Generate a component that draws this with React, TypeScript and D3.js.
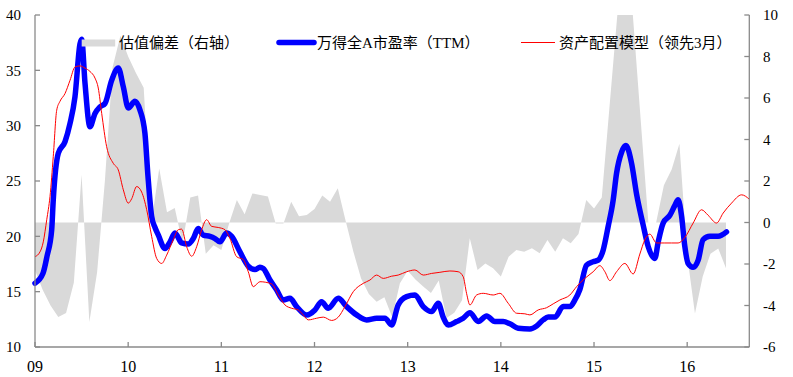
import React from "react";
import * as d3 from "d3";

const W = 793;
const H = 377;

// Tick labels
const yearTicks = [2009, 2010, 2011, 2012, 2013, 2014, 2015, 2016];
const xTickLabels = ["09", "10", "11", "12", "13", "14", "15", "16"];
const leftTicks = [10, 15, 20, 25, 30, 35, 40];
const rightTicks = [-6, -4, -2, 0, 2, 4, 6, 8, 10];

// Legend labels
const legendLabels = ["估值偏差（右轴）", "万得全A市盈率（TTM）", "资产配置模型（领先3月）"];

// 估值偏差 (right axis), monthly from 2009-01
const deviationStartYear = 2009;
const deviationValues = [
  -2.3, -3.25, -4.0, -4.55, -4.36, -2.9, 2.3, -4.8, -2.4, 2.0, 7.5, 9.0,
  8.0, 7.2, 6.5, 0.0, 2.6, 0.5, 0.7, -1.0, 1.2, 1.3, -1.5, -1.1,
  -1.33, -0.05, 1.08, 0.4, 1.4, 1.33, 1.25, -0.05, -0.05, 1.0, 0.3, 0.36,
  0.65, 1.3, 1.0, 1.65, 0.1, -1.4, -2.7, -3.45, -3.82, -3.6, -4.55, -2.93,
  -2.32, -2.75, -3.09, -3.4, -2.8, -4.6, -4.35, -3.75, -0.76, -2.29, -1.97, -2.2,
  -2.6, -1.65, -1.33, -1.41, -1.24, -1.48, -0.84, -1.41, -0.76, -1.0, -0.55, 1.08,
  0.68, 1.2, 5.6, 10.4, 10.8, 10.2, 5.0, 0.0, 0.0, 1.8, 2.55, 3.8,
  -1.6, -4.38, -2.6, -1.5, -1.25, -2.2,
];

// 万得全A市盈率（TTM） (left axis), time in decimal years
const peTimes = [
  2009.0, 2009.086, 2009.129, 2009.179, 2009.196, 2009.25, 2009.322, 2009.376, 2009.429, 2009.483,
  2009.501, 2009.537, 2009.59, 2009.644, 2009.697, 2009.751, 2009.823, 2009.894, 2009.948, 2010.001,
  2010.073, 2010.127, 2010.18, 2010.212, 2010.252, 2010.288, 2010.324, 2010.395, 2010.449, 2010.502,
  2010.574, 2010.645, 2010.699, 2010.752, 2010.806, 2010.878, 2010.932, 2010.985, 2011.057, 2011.111,
  2011.2, 2011.289, 2011.361, 2011.414, 2011.45, 2011.522, 2011.594, 2011.664, 2011.736, 2011.808,
  2011.916, 2012.005, 2012.076, 2012.147, 2012.255, 2012.345, 2012.452, 2012.559, 2012.667, 2012.756,
  2012.828, 2012.898, 2012.989, 2013.078, 2013.167, 2013.257, 2013.328, 2013.381, 2013.435, 2013.525,
  2013.596, 2013.668, 2013.757, 2013.847, 2013.936, 2014.025, 2014.097, 2014.186, 2014.312, 2014.384,
  2014.454, 2014.508, 2014.58, 2014.669, 2014.741, 2014.795, 2014.848, 2014.92, 2014.99, 2015.045,
  2015.098, 2015.152, 2015.206, 2015.242, 2015.296, 2015.342, 2015.403, 2015.457, 2015.528, 2015.582,
  2015.653, 2015.689, 2015.742, 2015.814, 2015.868, 2015.903, 2015.94, 2015.975, 2016.01, 2016.064,
  2016.118, 2016.171, 2016.243, 2016.332, 2016.422,
];
const peValues = [
  15.76, 16.66, 18.2, 20.57, 23.3, 27.5, 28.55, 30.2, 32.6, 37.4,
  37.8, 33.8, 29.9, 31.1, 31.7, 32.0, 34.1, 35.2, 33.5, 31.6,
  32.2, 31.4, 29.3, 25.5, 21.8, 20.8, 20.1, 18.9, 19.5, 20.3,
  19.4, 19.3, 19.8, 20.7, 20.1, 20.0, 19.8, 19.5, 20.3, 20.0,
  18.6, 17.3, 17.0, 17.2, 17.1, 16.05, 15.15, 14.25, 14.4, 13.65,
  12.9, 13.35, 14.1, 13.5, 14.4, 13.65, 12.9, 12.45, 12.6, 12.6,
  11.99, 13.8, 14.55, 14.7, 13.65, 13.2, 13.95, 12.7, 11.99, 12.3,
  12.6, 13.1, 12.3, 12.8, 12.3, 12.3, 12.1, 11.7, 11.63, 11.9,
  12.45, 12.7, 12.7, 13.65, 13.65, 14.25, 15.2, 17.4, 17.7, 17.85,
  18.75, 20.9, 23.3, 25.7, 27.6, 28.2, 26.6, 23.8, 21.0, 19.06,
  18.0, 19.5, 21.2, 21.9, 22.8, 23.3, 21.8, 19.06, 17.55, 17.2,
  17.85, 19.7, 20.0, 20.0, 20.4,
];

// 资产配置模型（领先3月） (left axis), time in decimal years
const modelTimes = [
  2009.0, 2009.054, 2009.089, 2009.126, 2009.161, 2009.196, 2009.233, 2009.268, 2009.322, 2009.376,
  2009.429, 2009.483, 2009.537, 2009.59, 2009.644, 2009.679, 2009.716, 2009.769, 2009.84, 2009.894,
  2009.948, 2010.001, 2010.038, 2010.091, 2010.145, 2010.199, 2010.252, 2010.306, 2010.36, 2010.413,
  2010.484, 2010.538, 2010.574, 2010.628, 2010.682, 2010.735, 2010.789, 2010.842, 2010.896, 2010.967,
  2011.039, 2011.093, 2011.164, 2011.235, 2011.289, 2011.343, 2011.414, 2011.54, 2011.611, 2011.683,
  2011.755, 2011.825, 2011.879, 2011.933, 2012.023, 2012.094, 2012.184, 2012.255, 2012.327, 2012.416,
  2012.523, 2012.595, 2012.667, 2012.738, 2012.828, 2012.898, 2012.989, 2013.078, 2013.167, 2013.257,
  2013.346, 2013.453, 2013.542, 2013.596, 2013.632, 2013.668, 2013.74, 2013.811, 2013.918, 2013.99,
  2014.079, 2014.169, 2014.258, 2014.312, 2014.401, 2014.491, 2014.562, 2014.634, 2014.741, 2014.813,
  2014.902, 2014.991, 2015.063, 2015.117, 2015.17, 2015.242, 2015.331, 2015.42, 2015.492, 2015.546,
  2015.599, 2015.671, 2015.76, 2015.832, 2015.903, 2015.975, 2016.064, 2016.154, 2016.225, 2016.315,
  2016.386, 2016.476, 2016.584, 2016.667,
];
const modelValues = [
  18.16, 18.6, 19.5, 21.5, 23.6, 27.2, 31.4, 32.2, 32.9, 34.1,
  35.3, 35.4, 35.2, 34.9, 34.3, 33.4, 31.1, 28.1, 26.6, 26.0,
  24.2, 23.0, 23.4, 24.5, 24.0, 22.4, 20.0, 18.0, 17.55, 18.3,
  19.7, 20.6, 20.65, 19.06, 18.2, 19.06, 20.6, 21.5, 20.9, 20.8,
  20.6, 19.8, 18.16, 17.9, 16.8, 15.45, 15.9, 15.7, 14.7, 13.8,
  13.5, 13.35, 12.9, 12.45, 12.6, 12.7, 12.4, 12.7, 13.65, 15.0,
  15.75, 16.05, 16.5, 16.2, 16.4, 16.5, 16.8, 16.96, 16.5, 16.65,
  16.75, 16.87, 16.8, 16.35, 14.85, 13.8, 14.7, 14.85, 14.7, 14.85,
  13.95, 13.05, 13.0, 12.9, 13.35, 13.55, 13.9, 14.25, 14.7, 15.45,
  16.2, 16.8, 17.35, 16.8, 16.0, 16.8, 17.55, 16.6, 18.4, 19.7,
  20.2, 19.4, 19.4, 19.4, 19.4, 19.9, 21.2, 22.4, 21.9, 21.2,
  22.1, 23.0, 23.75, 23.35,
];

const X0 = 35;
const X1 = 749.3;
const Y0 = 15;
const Y1 = 347;

export default function App() {
  const x = d3.scaleLinear().domain([2009, 2009 + 92 / 12]).range([X0, X1]);
  const yL = d3.scaleLinear().domain([10, 40]).range([Y1, Y0]);
  const yR = d3.scaleLinear().domain([-6, 10]).range([Y1, Y0]).clamp(true);

  const devData = deviationValues.map((v, i) => ({ t: deviationStartYear + i / 12, v }));
  const peData = peTimes.map((t, i) => ({ t, v: peValues[i] }));
  const modelData = modelTimes.map((t, i) => ({ t, v: modelValues[i] }));

  const area = d3
    .area<{ t: number; v: number }>()
    .x((d) => x(d.t))
    .y0(yR(0))
    .y1((d) => yR(d.v));
  const lineL = d3
    .line<{ t: number; v: number }>()
    .x((d) => x(d.t))
    .y((d) => yL(d.v))
    .curve(d3.curveMonotoneX);

  const axisColor = "#8a8a8a";
  const numFont = "'Liberation Serif', 'Times New Roman', serif";
  const legendFont = "'Liberation Serif', 'Noto Sans CJK SC', serif";

  return (
    <svg
      width={W}
      height={H}
      style={{ position: "absolute", left: 0, top: 0, background: "#fff" }}
    >
      <path d={area(devData) || ""} fill="#d9d9d9" stroke="none" />
      <path
        d={lineL(peData) || ""}
        fill="none"
        stroke="#0000ff"
        strokeWidth={5.5}
        strokeLinejoin="round"
        strokeLinecap="round"
      />
      <path d={lineL(modelData) || ""} fill="none" stroke="#ff0000" strokeWidth={1} />

      {/* axes */}
      <line x1={X0} x2={X0} y1={Y0} y2={Y1} stroke={axisColor} strokeWidth={1.3} />
      <line x1={X1} x2={X1} y1={Y0} y2={Y1} stroke={axisColor} strokeWidth={1.3} />
      <line x1={X0} x2={X1} y1={Y1} y2={Y1} stroke={axisColor} strokeWidth={1.3} />

      {leftTicks.map((v) => (
        <g key={"l" + v}>
          <line x1={X0} x2={X0 + 5} y1={yL(v)} y2={yL(v)} stroke={axisColor} strokeWidth={1.3} />
          <text
            x={21}
            y={yL(v)}
            dy="0.35em"
            textAnchor="end"
            fontFamily={numFont}
            fontSize={15}
            fill="#000"
          >
            {v}
          </text>
        </g>
      ))}
      {rightTicks.map((v) => (
        <g key={"r" + v}>
          <line x1={X1 - 5} x2={X1} y1={yR(v)} y2={yR(v)} stroke={axisColor} strokeWidth={1.3} />
          <text
            x={763}
            y={yR(v)}
            dy="0.35em"
            textAnchor="start"
            fontFamily={numFont}
            fontSize={15}
            fill="#000"
          >
            {v}
          </text>
        </g>
      ))}
      {yearTicks.map((t, i) => (
        <g key={"x" + t}>
          <line x1={x(t)} x2={x(t)} y1={Y1 - 5} y2={Y1} stroke={axisColor} strokeWidth={1.3} />
          <text
            x={x(t)}
            y={372}
            textAnchor="middle"
            fontFamily={numFont}
            fontSize={16}
            fill="#000"
          >
            {xTickLabels[i]}
          </text>
        </g>
      ))}

      {/* legend */}
      <rect x={81.7} y={39.5} width={33.5} height={7} fill="#d9d9d9" />
      <text x={119} y={48} fontFamily={legendFont} fontSize={15} fill="#000">
        {legendLabels[0]}
      </text>
      <line
        x1={279}
        x2={314}
        y1={42.5}
        y2={42.5}
        stroke="#0000ff"
        strokeWidth={5.5}
        strokeLinecap="round"
      />
      <text x={317} y={48} fontFamily={legendFont} fontSize={15} fill="#000">
        {legendLabels[1]}
      </text>
      <line x1={521} x2={555} y1={42.5} y2={42.5} stroke="#ff0000" strokeWidth={1} />
      <text x={559} y={48} fontFamily={legendFont} fontSize={15} fill="#000">
        {legendLabels[2]}
      </text>
    </svg>
  );
}
